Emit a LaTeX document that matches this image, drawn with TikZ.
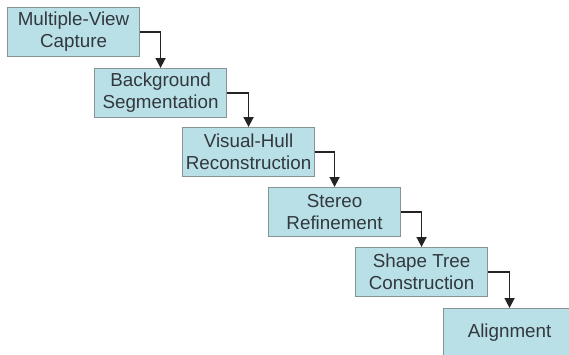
\documentclass[tikz,border=0pt]{standalone}
\usepackage{fontspec}
\setmainfont{Liberation Sans}
\usetikzlibrary{arrows.meta}
\definecolor{boxfill}{RGB}{184,224,230}
\definecolor{boxline}{RGB}{135,148,150}
\definecolor{boxtext}{RGB}{50,56,62}
\definecolor{arrowcol}{RGB}{35,35,35}
\begin{document}
\begin{tikzpicture}[x=1pt,y=-1pt,
  stage/.style={draw=boxline, line width=1.1pt, fill=boxfill, rectangle,
    minimum width=132pt, minimum height=49pt, inner sep=0pt, anchor=north west,
    text=boxtext, align=center,
    font=\fontsize{18.8pt}{22pt}\selectfont},
  flow/.style={draw=arrowcol, line width=1.6pt,
    -{Triangle[length=10pt,width=10pt]}}]
  \useasboundingbox (0,0) rectangle (569,354);
  \clip (0,0) rectangle (569,354);
  \fill[white] (0,0) rectangle (569,354);

  \node[stage] (s1) at (7,7)    {Multiple-View\\Capture};
  \node[stage] (s2) at (94,68)  {Background\\Segmentation};
  \node[stage] (s3) at (182,127){Visual-Hull\\Reconstruction};
  \node[stage] (s4) at (268,187){Stereo\\Refinement};
  \node[stage] (s5) at (355,247){Shape Tree\\Construction};
  \node[stage] (s6) at (443,308){Alignment};

  \draw[flow] (s1.east) -| (s2.north);
  \draw[flow] (s2.east) -| (s3.north);
  \draw[flow] (s3.east) -| (s4.north);
  \draw[flow] (s4.east) -| (s5.north);
  \draw[flow] (s5.east) -| (s6.north);
\end{tikzpicture}
\end{document}
